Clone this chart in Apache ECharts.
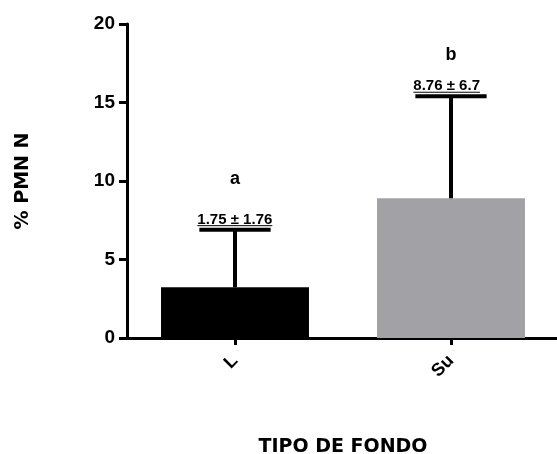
<!DOCTYPE html>
<html>
<head>
<meta charset="utf-8">
<script src="https://cdn.jsdelivr.net/npm/echarts@6/dist/echarts.min.js"></script>
<style>html,body{margin:0;padding:0;background:#fff;overflow:hidden}#c{width:557px;height:454px}</style>
</head>
<body>
<div id="c"></div>
<script>
const categories = ['L', 'Su'];
const means = [3.23, 8.9];
const errorTops = [6.9, 15.4];
const statLabels = ['1.75 ± 1.76', '8.76 ± 6.7'];
const letters = ['a', 'b'];
const letterLevels = [9.75, 17.7];
const barColors = ['#000000', '#a2a1a6'];
const yTicks = [0, 5, 10, 15, 20];

const FONT = '"Liberation Sans", Arial, sans-serif';
const TFONT = '"DejaVu Sans", "Liberation Sans", sans-serif';
const el = document.getElementById('c');
const chart = echarts.init(el, null, {renderer: 'canvas'});

const mctx = document.createElement('canvas').getContext('2d');
function textWidth(t, f) { mctx.font = f; return mctx.measureText(t).width; }

const option = {
  animation: false,
  grid: {left: 127, right: -2, top: 24, bottom: 116, containLabel: false, outerBoundsMode: 'none'},
  xAxis: {
    type: 'category',
    data: categories,
    name: 'TIPO DE FONDO',
    nameLocation: 'middle',
    nameGap: 100,
    nameTextStyle: {fontFamily: TFONT, fontWeight: 'bold', fontSize: 19, color: '#000', verticalAlign: 'top'},
    axisLine: {lineStyle: {color: '#000', width: 3}},
    axisTick: {show: true, length: 7, alignWithLabel: true, lineStyle: {color: '#000', width: 3}},
    axisLabel: {rotate: 45, fontFamily: FONT, fontWeight: 'bold', fontSize: 18, color: '#000', margin: 20},
    splitLine: {show: false}
  },
  yAxis: {
    type: 'value',
    min: yTicks[0],
    max: yTicks[yTicks.length - 1],
    interval: 5,
    name: '% PMN N',
    nameLocation: 'middle',
    nameGap: 94,
    nameRotate: 90,
    nameTextStyle: {fontFamily: TFONT, fontWeight: 'bold', fontSize: 19, color: '#000'},
    axisLine: {show: true, lineStyle: {color: '#000', width: 3}},
    axisTick: {show: true, length: 8, lineStyle: {color: '#000', width: 3}},
    axisLabel: {fontFamily: FONT, fontWeight: 'bold', fontSize: 19, color: '#000', margin: 12},
    splitLine: {show: false}
  },
  series: [
    {
      type: 'bar',
      barWidth: '68.5%',
      data: means.map((v, i) => ({value: v, itemStyle: {color: barColors[i]}})),
      z: 1
    },
    {
      type: 'custom',
      z: 5,
      data: means.map((m, i) => [i, m, errorTops[i], letterLevels[i]]),
      renderItem: function (params, api) {
        const i = api.value(0);
        const base = api.coord([i, api.value(1)]);
        const top = api.coord([i, api.value(2)]);
        const lev = api.coord([i, api.value(3)]);
        const band = api.size([1, 0])[0];
        const capHalf = band * 0.165;
        const x = base[0];
        const sFont = 'bold 15px ' + FONT;
        const label = statLabels[i];
        const w = textWidth(label, sFont);
        const tx = x - capHalf - 2;
        return {
          type: 'group',
          children: [
            {type: 'line', shape: {x1: x, y1: base[1], x2: x, y2: top[1]}, style: {stroke: '#000', lineWidth: 4}},
            {type: 'line', shape: {x1: x - capHalf, y1: top[1], x2: x + capHalf, y2: top[1]}, style: {stroke: '#000', lineWidth: 4}},
            {type: 'text', style: {text: label, x: tx, y: top[1] - 2.5, align: 'left', verticalAlign: 'bottom', font: sFont, fill: '#000'}},
            {type: 'line', shape: {x1: tx, y1: top[1] - 4, x2: tx + w, y2: top[1] - 4}, style: {stroke: '#000', lineWidth: 1}},
            {type: 'text', style: {text: letters[i], x: x, y: lev[1] + 3.5, align: 'center', verticalAlign: 'bottom', font: 'bold 18px ' + FONT, fill: '#000'}}
          ]
        };
      }
    }
  ]
};
chart.setOption(option);
</script>
</body>
</html>
